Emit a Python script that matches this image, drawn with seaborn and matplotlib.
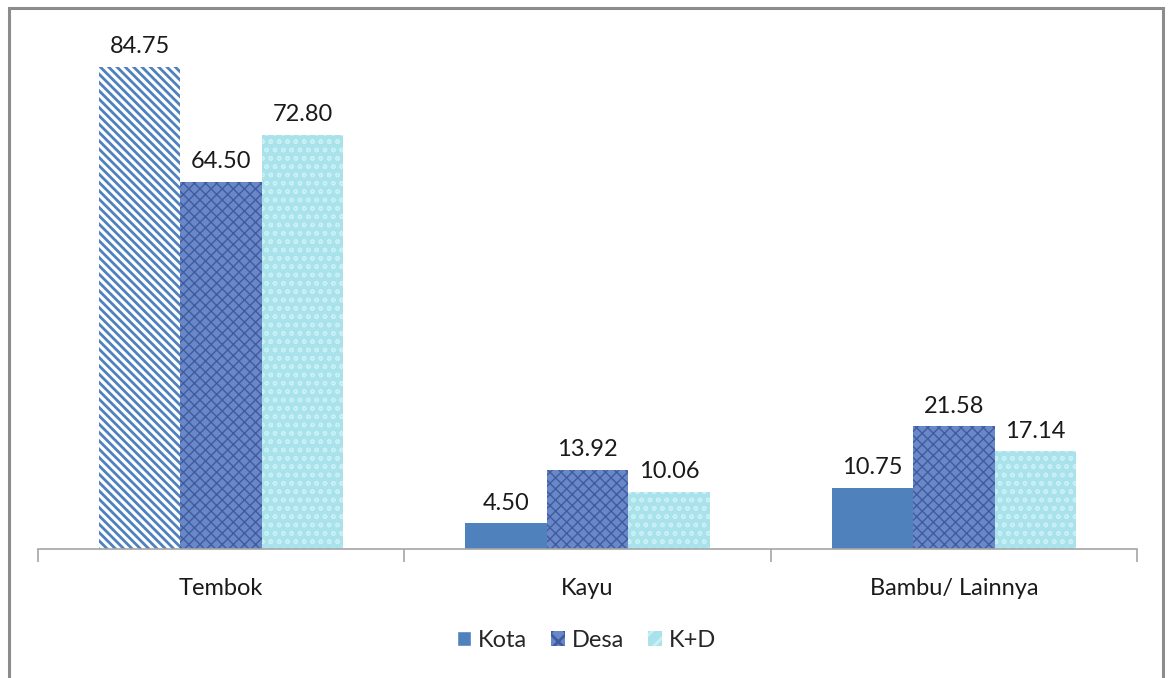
import matplotlib
matplotlib.use("Agg")
import matplotlib.pyplot as plt
from matplotlib.patches import Rectangle, Patch
import seaborn as sns
import pandas as pd

categories = ["Tembok", "Kayu", "Bambu/ Lainnya"]
series = ["Kota", "Desa", "K+D"]
kota = [84.75, 4.50, 10.75]
desa = [64.50, 13.92, 21.58]
kd = [72.80, 10.06, 17.14]

df = pd.DataFrame({
    "Jenis": categories * 3,
    "Wilayah": [s for s in series for _ in categories],
    "Persen": kota + desa + kd,
})

sns.set_theme(style="white")
plt.rcParams["font.family"] = ["Lato", "DejaVu Sans"]
plt.rcParams["hatch.linewidth"] = 2.0

fig = plt.figure(figsize=(11.68, 6.78), dpi=100)
ax = fig.add_axes([0.0325, 0.1903, 0.941, 0.755])

palette = {"Kota": "#4F81BD", "Desa": "#6482C2", "K+D": "#A9E2EB"}
sns.barplot(data=df, x="Jenis", y="Persen", hue="Wilayah", palette=palette,
            width=0.667, gap=0, saturation=1, ax=ax, legend=False)

# textured fills for each series
styles = {
    "Kota": dict(face="#4F81BD", hatch=None, edge="#4F81BD"),
    "Desa": dict(face="#6A88C8", hatch="xxx", edge="#3E5C9E"),
    "K+D": dict(face="#A9E2EB", hatch="oo", edge="#C9F1F5"),
}
for name, cont in zip(series, ax.containers):
    st = styles[name]
    for i, bar in enumerate(cont):
        bar.set_linewidth(0)
        bar.set_facecolor(st["face"])
        bar.set_edgecolor(st["edge"])
        if st["hatch"]:
            bar.set_hatch(st["hatch"])
        if name == "Kota" and i == 0:
            bar.set_facecolor("white")
            bar.set_hatch("\\\\\\\\")
            bar.set_edgecolor("#4F81BD")
        if name in ("Desa", "K+D"):
            try:
                bar.set_hatch_linewidth(1.0)
            except AttributeError:
                pass
    ax.bar_label(cont, fmt="%.2f", padding=7, fontsize=17, color="#1a1a1a")

ax.set_ylim(0, 90)
ax.set_xlim(-0.5, 2.5)
ax.set_yticks([])
ax.set_xlabel("")
ax.set_ylabel("")
for s in ["left", "right", "top"]:
    ax.spines[s].set_visible(False)
ax.spines["bottom"].set_color("#A6A6A6")
ax.spines["bottom"].set_linewidth(1.2)
ax.set_xticks([-0.5, 0.5, 1.5, 2.5], minor=True)
ax.tick_params(axis="x", which="minor", length=9, width=1.2, color="#A6A6A6",
               direction="out", bottom=True)
ax.tick_params(axis="x", which="major", length=0, pad=21, labelsize=17,
               labelcolor="#1a1a1a")

handles = [
    Patch(facecolor="#4F81BD", label="Kota"),
    Patch(facecolor="#6A88C8", edgecolor="#3E5C9E", hatch="xx", linewidth=0, label="Desa"),
    Patch(facecolor="#A9E2EB", edgecolor="#C9F1F5", hatch="//", linewidth=0, label="K+D"),
]
fig.legend(handles=handles, loc="center", bbox_to_anchor=(0.502, 0.056), ncol=3,
           frameon=False, fontsize=17, handlelength=0.6, handleheight=0.6,
           handletextpad=0.3, columnspacing=1.0)

fig.patches.append(Rectangle((0.008, -0.02), 0.988, 1.008, transform=fig.transFigure,
                             fill=False, edgecolor="#8C8C8C", linewidth=2.2))

fig.savefig("out.png", dpi=100)
